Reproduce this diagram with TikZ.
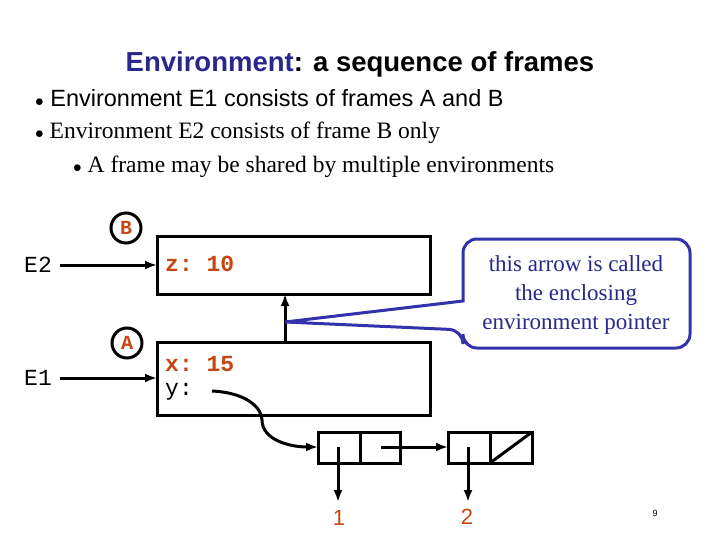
\documentclass[tikz,border=0pt]{standalone}
\usepackage{fontspec}
\setmainfont{Liberation Serif}
\setsansfont{Liberation Sans}
\setmonofont{Liberation Mono}
\usetikzlibrary{arrows.meta}
\definecolor{ored}{RGB}{200,70,20}
\definecolor{tblue}{RGB}{40,40,140}
\definecolor{cblue}{RGB}{50,50,170}
\begin{document}
\begin{tikzpicture}[x=1pt,y=-1pt,
  frame/.style={draw,line width=3pt},
  ptr/.style={line width=3pt,-{Latex[length=12pt,width=9pt]}},
  lbl/.style={circle,draw,line width=3pt,minimum size=30pt,inner sep=0pt,text=ored,font=\ttfamily\bfseries\fontsize{20}{20}\selectfont},
  mono/.style={font=\ttfamily\fontsize{23}{23}\selectfont,anchor=west,inner sep=0pt},
  bul/.style={anchor=west,inner sep=0pt}]
\fill[white] (0,0) rectangle (720,540);
\node[font=\sffamily\bfseries\fontsize{27.5}{30}\selectfont] (title) at (360,64) {\textcolor{tblue}{Environment}: a sequence of frames};
\node[bul,font=\sffamily\fontsize{23.5}{26}\selectfont] (b1) at (35,98) {{\fontsize{16}{16}\selectfont$\bullet$} Environment E1 consists of frames A and B};
\node[bul,font=\fontsize{23.5}{26}\selectfont] (b2) at (35,133) {{\fontsize{16}{16}\selectfont$\bullet$} Environment E2 consists of frame B only};
\node[bul,font=\fontsize{23.5}{26}\selectfont] (b3) at (73,167) {{\fontsize{16}{16}\selectfont$\bullet$} A frame may be shared by multiple environments};
% frames
\draw[frame] (157,236) rectangle (430,294);
\draw[frame] (157,342) rectangle (430,415);
\node[lbl] (B) at (126,228) {B};
\node[lbl] (A) at (127,343) {A};
\node[mono] (e2) at (24,265) {E2};
\node[mono] (e1) at (24,378) {E1};
\coordinate (fb) at (157,265);
\coordinate (fa) at (157,378);
\draw[ptr] (e2.east)++(8,0) -- (fb);
\draw[ptr] (e1.east)++(8,0) -- (fa);
\node[mono,text=ored,font=\ttfamily\bfseries\fontsize{23}{23}\selectfont] (z) at (165,264) {z: 10};
\node[mono,text=ored,font=\ttfamily\bfseries\fontsize{23}{23}\selectfont] (x) at (165,364) {x: 15};
\node[mono] (y) at (165,392) {y:};
% enclosing pointer
\coordinate (tip) at (285,322);
\coordinate (up) at (285,294);
\draw[ptr] (285,342) -- (up);
% callout
\draw[cblue,line width=3pt,fill=white,rounded corners=14pt] (463,301) -- (463,239) -- (690,239) -- (690,348) -- (463,348) -- (463,330) [sharp corners]-- (tip) -- cycle;
\node[align=center,text=tblue,font=\fontsize{23}{29}\selectfont] (call) at (576,295) {this arrow is called\\the enclosing\\environment pointer};
% cells
\draw[frame] (318,432) rectangle (400,463);
\draw[frame] (360,432) -- (360,463);
\draw[frame] (448,432) rectangle (532,463);
\draw[frame] (490,432) -- (490,463);
\draw[frame] (490,463) -- (532,432);
\coordinate (c1) at (318,447);
\coordinate (c2) at (448,447);
\draw[ptr] (212,391) .. controls (250,393) and (262,410) .. (262,420) .. controls (262,440) and (290,447) .. (c1);
\draw[ptr] (381,447) -- (c2);
\node[font=\sffamily\fontsize{22}{22}\selectfont,text=ored] (one) at (339,518) {1};
\node[font=\sffamily\fontsize{22}{22}\selectfont,text=ored] (two) at (467,517) {2};
\draw[ptr] (338,447) -- (338,502);
\draw[ptr] (468,447) -- (468,502);
\node[font=\sffamily\fontsize{9}{9}\selectfont] (pg) at (655,513) {9};
\end{tikzpicture}
\end{document}
